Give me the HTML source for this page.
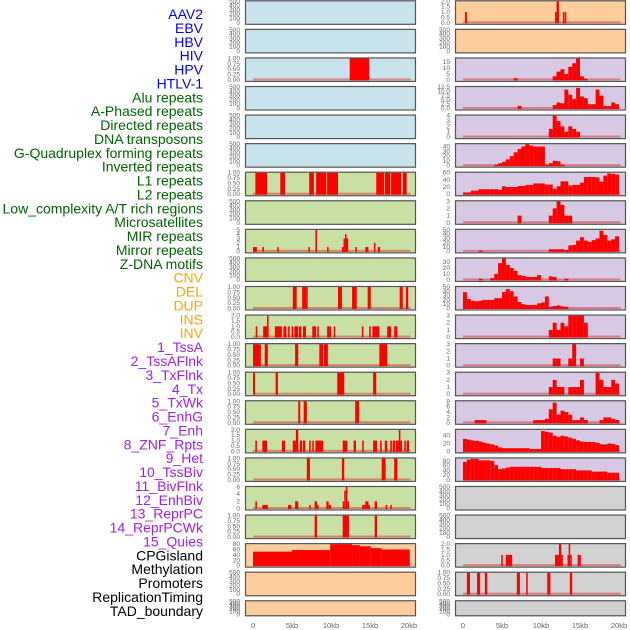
<!DOCTYPE html>
<html><head><meta charset="utf-8"><style>
body{margin:0;background:#fff;}
svg{display:block;font-family:"Liberation Sans",sans-serif;}
</style></head><body>
<svg id="chart" width="630" height="630" viewBox="0 0 630 630" xmlns="http://www.w3.org/2000/svg"></svg>
<script>
// ---------- data ----------
const trackLabels = ["AAV2","EBV","HBV","HIV","HPV","HTLV-1","Alu repeats","A-Phased repeats","Directed repeats","DNA transposons","G-Quadruplex forming repeats","Inverted repeats","L1 repeats","L2 repeats","Low_complexity A/T rich regions","Microsatellites","MIR repeats","Mirror repeats","Z-DNA motifs","CNV","DEL","DUP","INS","INV","1_TssA","2_TssAFlnk","3_TxFlnk","4_Tx","5_TxWk","6_EnhG","7_Enh","8_ZNF_Rpts","9_Het","10_TssBiv","11_BivFlnk","12_EnhBiv","13_ReprPC","14_ReprPCWk","15_Quies","CPGisland","Methylation","Promoters","ReplicationTiming","TAD_boundary"];
const labelColors = ["#0000ff","#0000ff","#0000ff","#0000ff","#0000ff","#0000ff","#006400","#006400","#006400","#006400","#006400","#006400","#006400","#006400","#006400","#006400","#006400","#006400","#006400","#ffa500","#ffa500","#ffa500","#ffa500","#ffa500","#a020f0","#a020f0","#a020f0","#a020f0","#a020f0","#a020f0","#a020f0","#a020f0","#a020f0","#a020f0","#a020f0","#a020f0","#a020f0","#a020f0","#a020f0","#000","#000","#000","#000","#000"];
const xTickValues = [0,5,10,15,20];
const xTickLabels = ["0","5kb","10kb","15kb","20kb"];

// left column segments [startKb, endKb, value]
const L2_segs = [[12.4,14.9,1]];
const L6_segs = [[0.3,1.8,1],[3.5,4.1,1],[7.2,7.8,1],[8.1,9.4,1],[9.5,10.9,1],[15.8,16.8,1],[16.9,17.6,1],[17.7,19.0,1],[19.2,19.7,1]];
const L8_segs = [[0,0.5,1],[1.2,1.4,1],[3.1,3.3,1],[7.1,7.3,1],[8.0,8.2,5],[9.5,9.7,1],[11.4,11.6,1],[11.6,11.8,3],[11.8,11.95,4],[11.95,12.2,3],[13.1,13.3,1],[14.4,14.8,1],[15.5,15.7,2],[16.0,16.3,1]];
const L10_segs = [[5.1,5.6,1],[6.3,7.0,1],[10.9,11.4,1],[12.7,13.3,1],[14.7,15.1,1],[18.8,19.2,1],[19.6,19.9,1]];
const L11_segs = [[0.35,0.5,1],[1.3,1.8,1],[1.8,2.0,2],[2.8,3.7,1],[3.9,4.3,1],[4.5,4.7,1],[4.95,5.1,1],[5.3,5.8,1],[5.9,6.2,1],[6.4,6.8,1],[7.6,8.1,1],[8.25,8.4,1],[9.5,10.0,1],[10.35,10.5,1],[13.95,14.1,1],[14.9,15.1,1],[15.3,16.2,1],[17.2,17.7,1],[18.1,18.5,1]];
const L12_segs = [[0,1.0,1],[1.5,1.9,1],[5.4,5.8,1],[8.5,9.0,1],[9.1,9.6,1],[16.2,17.2,1]];
const L13_segs = [[0,0.25,1],[2.9,3.2,1],[10.8,11.7,1],[15.4,15.8,1]];
const L14_segs = [[5.8,6.05,1],[6.5,6.9,1],[13.1,13.6,1]];
const L15_segs = [[0.3,0.5,1],[1.2,1.8,1],[3.7,4.1,1],[5.1,5.5,1],[5.5,5.8,2],[6.0,6.3,1],[6.4,6.7,1],[7.2,7.4,1],[7.6,7.8,1],[8.0,9.0,1],[11.5,12.1,1],[12.9,13.2,1],[14.0,14.2,1],[15.4,15.9,1],[16.3,16.5,1],[16.9,17.2,1],[17.6,17.8,1],[17.9,18.2,1],[18.3,18.7,1],[18.7,18.9,2],[18.9,19.1,1],[19.4,19.6,1],[19.7,20.0,1]];
const L16_segs = [[6.9,7.3,1],[11.4,11.7,1],[16.5,17.0,1],[18.1,18.5,1]];
const L17_segs = [[0.3,0.5,2],[1.2,1.9,1],[4.5,4.9,1],[5.4,5.8,2],[7.2,7.4,1],[7.9,8.2,2],[8.2,8.4,1],[9.4,9.7,2],[9.7,10.0,1],[11.5,11.7,2],[11.7,11.9,5],[11.9,12.1,6],[12.1,12.3,2],[14.0,14.4,1],[14.4,14.8,2],[14.8,15.0,1],[15.6,15.9,2],[17.0,17.2,1],[17.6,17.8,1]];
const L18_segs = [[7.9,8.2,1],[11.5,12.3,1],[15.6,15.9,1]];
const L19_segs = [[0,5.0,52],[5.0,9.9,58],[9.9,12.7,80],[12.7,13.7,76],[13.7,15.1,72],[15.1,16.5,65],[16.5,20.1,60]];

// right column segments / 0.5kb bins
const R0_segs = [[0.25,0.5,1],[11.8,12.0,1],[12.0,12.3,2],[12.8,12.95,1],[13.05,13.2,1]];
const R2_bins = [0,0,0,0,0,0,0,0,0,0,0,0,0,1.5,0,0,0,0,0,0,0,0,0,3,7,9,5,11,14,18,3,1,0,0,0,0,0,0,0,0];
const R3_bins = [0,0,0,0,0,0,0,0,0,0,0,0,0,0,1.5,0,0,0,0,0,0,0,0,2,3.5,3,11,8,5.5,12,7,6,2.5,2.5,11,7.5,1.5,1.5,3.5,2.5];
const R4_bins = [0,0,0,0,0,0,0,0,0,0,0,0,0,0,0,0,0,0,0,0,0,0,1.5,4,3,2,1,2,1.5,1,0,0,0,0,0,0,0,0,0,0];
const R5_bins = [0,0,0,0,0,0,0,0,2,5,8,13,20,28,35,40,45,42,40,40,40,2,5,10,9,2,0,0,0,0,0,0,0,0,0,0,0,0,0,0];
const R6_bins = [5,5,10,10,14,14,14,14,14,12,22,20,20,20,23,23,26,26,30,30,30,27,27,15,22,36,36,24,26,26,32,48,48,48,47,35,52,58,57,55];
const R7_bins = [0,0,0,0,0,0,0,0,0,0,0,0,0,0,1,0,0,0,0,0,0,0,1,2,3,2.5,1,1,0,0,0,0,0,0,0,0,0,0,0,0];
const R8_bins = [0,0,0,0,2,0,0,0,0,0,0,0,0,0,0,0,0,0,0,0,0,0,5,5,5,5,3,14,15,25,33,25,22,26,30,48,38,25,28,35];
const R9_bins = [0,0,0,0,2,0,0,3,10,28,36,25,20,15,8,7,5,5,5,8,0,0,6,5,0,0,2,0,0,0,0,0,0,0,0,0,0,0,0,0];
const R10_bins = [38,22,18,17,18,20,20,20,24,24,38,45,40,28,15,10,8,8,8,12,14,28,4,6,7,5,4,0,0,0,0,0,0,0,0,0,0,0,0,0];
const R11_bins = [0,0,0,0,0,0,0,0,0,0,0,0,0,0,0,0,0,0,0,0,0,0,1,2,1,2,1.5,3,3,3,3,2,0,0,0,0,0,0,0,0];
const R12_bins = [0,0,0,0,0,0,0,0,0,0,0,0,0,0,0,0,0,0,0,0,0,0,0,1,1,0,0,1,3,0,1,0,0,0,0,0,0,0,0,0];
const R13_bins = [0,0,0,0,0,0,0,0,0,0,0,0,0,0,0,0,0,0,0,0,0,0,1,2,1,1,0,1,1,1,2,0,0,0,3,2,1,1,2,1.5];
const R14_bins = [0,0,0,1,1,1,0,0,0,0,0,0,0,0,0,0,0,0,1,1,1,1.5,5,7.5,3,4.5,4,3,1,1,2,1,0,0,0,1,2,2,1.5,1];
const R15_bins = [32,30,28,27,25,22,20,18,15,10,8,8,8,8,8,8,8,6,6,6,52,50,48,40,37,40,38,35,32,28,25,24,24,24,22,18,18,20,19,16];
const R16_bins = [75,85,88,88,82,82,82,80,62,45,48,52,55,55,55,55,55,55,55,55,50,50,50,50,50,45,45,45,45,40,40,40,40,35,35,35,35,30,30,30];
const R19_segs = [[4.9,5.1,1],[5.5,6.3,1],[11.8,12.3,1],[12.3,12.6,2],[12.6,12.8,1],[13.4,13.55,1],[13.55,13.75,2],[13.75,13.9,1],[14.7,15.1,1]];
const R20_segs = [[0.5,0.9,1],[1.8,2.2,1],[2.8,3.1,1],[6.9,7.3,1],[8.1,8.3,1],[10.8,11.2,1],[13.7,14.0,1]];

const emptyTicks = [0,100,200,300,400,500];
const unitTicks = [0,0.25,0.5,0.75,1];
const BLUE="#c9e3ec", GREEN="#c9e0a5", PEACH="#fdcd9e", PURPLE="#d7c9e3", GREY="#d1d1d1";
const leftPanels = [
 [null,0,500,emptyTicks,0,BLUE],[null,0,500,emptyTicks,0,BLUE],[L2_segs,0,1,unitTicks,2,BLUE],
 [null,0,500,emptyTicks,0,BLUE],[null,0,500,emptyTicks,0,BLUE],[null,0,500,emptyTicks,0,BLUE],
 [L6_segs,0,1,unitTicks,2,GREEN],[null,0,500,emptyTicks,0,GREEN],[L8_segs,0,5,[0,1,2,3,4,5],0,GREEN],
 [null,0,500,emptyTicks,0,GREEN],[L10_segs,0,1,unitTicks,2,GREEN],[L11_segs,0,2,[0,0.5,1,1.5,2],1,GREEN],
 [L12_segs,0,1,unitTicks,2,GREEN],[L13_segs,0,1,unitTicks,2,GREEN],[L14_segs,0,1,unitTicks,2,GREEN],
 [L15_segs,0,2,[0,0.5,1,1.5,2],1,GREEN],[L16_segs,0,1,unitTicks,2,GREEN],[L17_segs,0,6,[0,2,4,6],0,GREEN],
 [L18_segs,0,1,unitTicks,2,GREEN],[L19_segs,0,80,[0,20,40,60,80],0,PEACH],[null,0,500,emptyTicks,0,PEACH],[null,0,500,emptyTicks,0,PEACH]];
const rightPanels = [
 [R0_segs,0,2,[0,0.5,1,1.5,2],1,PEACH],[null,0,500,emptyTicks,0,PEACH],[R2_bins,1,18,[0,5,10,15],0,PURPLE],
 [R3_bins,1,12.5,[0,2.5,5,7.5,10,12.5],1,PURPLE],[R4_bins,1,4,[0,1,2,3,4],0,PURPLE],[R5_bins,1,45,[0,10,20,30,40],0,PURPLE],
 [R6_bins,1,60,[0,20,40,60],0,PURPLE],[R7_bins,1,3,[0,1,2,3],0,PURPLE],[R8_bins,1,50,[0,10,20,30,40,50],0,PURPLE],
 [R9_bins,1,36,[0,10,20,30],0,PURPLE],[R10_bins,1,50,[0,10,20,30,40,50],0,PURPLE],[R11_bins,1,3,[0,1,2,3],0,PURPLE],
 [R12_bins,1,3,[0,1,2,3],0,PURPLE],[R13_bins,1,3,[0,1,2,3],0,PURPLE],[R14_bins,1,8,[0,2,4,6,8],0,PURPLE],
 [R15_bins,1,55,[0,20,40],0,PURPLE],[R16_bins,1,90,[0,20,40,60,80],0,PURPLE],[null,0,500,emptyTicks,0,GREY],
 [null,0,500,emptyTicks,0,GREY],[R19_segs,0,2,[0,0.5,1,1.5,2],1,GREY],[R20_segs,0,1,unitTicks,2,GREY],[null,0,500,emptyTicks,0,GREY]];

// ---------- drawing ----------
const NS="http://www.w3.org/2000/svg";
const svg=document.getElementById('chart');
function mk(tag,attrs,parent){const e=document.createElementNS(NS,tag);for(const k in attrs)e.setAttribute(k,attrs[k]);(parent||svg).appendChild(e);return e;}
const PXKB=7.8;
const colX0=[253,463], colLeft=[245,455], colW=171;
function xs(col,kb){return colX0[col]+kb*PXKB;}
function rowTop(i){return 0.3+i*28.57;}
function rowH(i){return i===21?16:24.5;}

// labels
trackLabels.forEach((t,k)=>{
  const e=mk('text',{x:203,y:14+k*13.88+5,'text-anchor':'end','font-size':'14px',fill:labelColors[k]});
  e.textContent=t;
  
  
});

function drawPanel(col,i,p){
  const [data,isBins,ymax,ticks,dec,bg]=p;
  const t=rowTop(i),h=rowH(i),x0=colLeft[col];
  const g=mk('g',{});
  
  
  mk('rect',{x:x0,y:t,width:colW,height:h,fill:bg},g);
  const yb=t+h-2, yt=t+1;
  const ys=v=>yb-v/ymax*(yb-yt);
  ticks.forEach(v=>{
    const tx=mk('text',{x:x0-5,y:ys(v)+2,'text-anchor':'end','font-size':'6.5px',fill:'#666'},g);
    tx.textContent=v.toFixed(dec);
    
    
  });
  if(data){
    let segs=data;
    if(isBins){segs=[];data.forEach((v,k)=>{if(v>0)segs.push([k*0.5,k*0.5+0.5,v]);});}
    mk('rect',{x:xs(col,0),y:yb-1.5,width:20.2*PXKB,height:2,fill:'rgba(215,60,60,0.55)'},g);
    segs.forEach(s=>{
      const v=Math.min(s[2],ymax);
      const r=mk('rect',{x:xs(col,s[0]),y:ys(v),width:Math.max(1.5,(s[1]-s[0])*PXKB),height:yb-ys(v)+0.5,fill:'#ff0000'},g);
      
      
    });
  }
  mk('rect',{x:x0+0.5,y:t+0.5,width:colW-1,height:h-1,fill:'none',stroke:'#555','stroke-width':1.2},g);
}
leftPanels.forEach((p,i)=>drawPanel(0,i,p));
rightPanels.forEach((p,i)=>drawPanel(1,i,p));

// x axes
[0,1].forEach(col=>{
  xTickValues.forEach((v,k)=>{
    const e=mk('text',{x:xs(col,v),y:628,'text-anchor':'middle','font-size':'7.5px',fill:'#666'});
    e.textContent=xTickLabels[k];
    
    
  });
});
</script>
</body></html>
